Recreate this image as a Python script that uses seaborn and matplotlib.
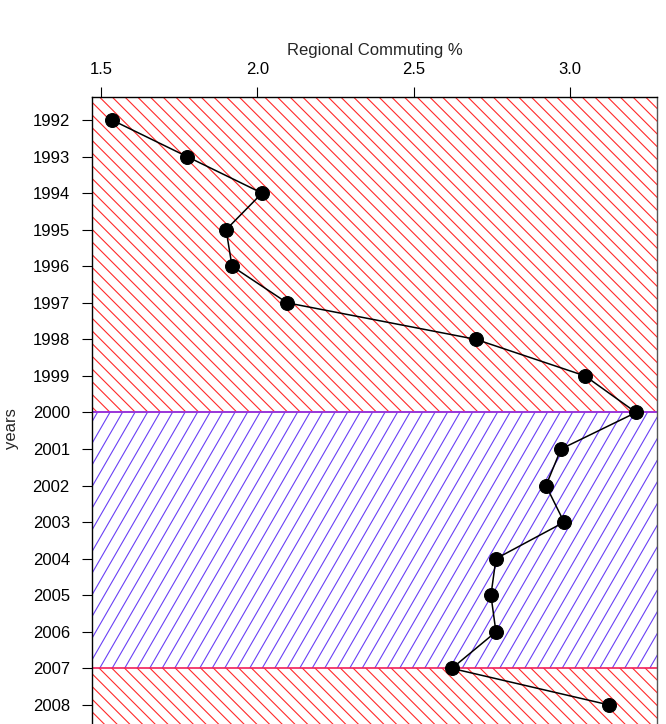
import numpy as np
import pandas as pd
import matplotlib
matplotlib.use("Agg")
import matplotlib.pyplot as plt
import matplotlib.patches as mpatches
from matplotlib.collections import LineCollection
import seaborn as sns

# Data
years = list(range(1992, 2009))
commuting = [1.535, 1.775, 2.015, 1.900, 1.919, 2.095, 2.699, 3.048, 3.211,
             2.971, 2.923, 2.981, 2.763, 2.747, 2.763, 2.622, 3.125]
x_ticks = [1.5, 2.0, 2.5, 3.0]
# boundaries of the blue-hatched period
period_bounds = [2000, 2007]

RED = "#ff2a2a"
BLUE = "#6a40f5"

df = pd.DataFrame({"year": years, "pct": commuting})

sns.set_style("white")
plt.rcParams["font.family"] = ["Liberation Sans", "DejaVu Sans"]

W_PX, H_PX = 666, 724
fig = plt.figure(figsize=(W_PX / 100, H_PX / 100), dpi=100)
ax_left, ax_right, ax_top, ax_bot = 92, 657, 97, 760
ax = fig.add_axes([ax_left / W_PX, (H_PX - ax_bot) / H_PX,
                   (ax_right - ax_left) / W_PX, (ax_bot - ax_top) / H_PX])
aw, ah = ax_right - ax_left, ax_bot - ax_top

px_per_year = 36.56
y_top = 1992 - 23 / px_per_year
y_bot = y_top + ah / px_per_year
px_per_unit = 312.7
x_lo = 1.5 - 9 / px_per_unit
x_hi = x_lo + aw / px_per_unit
ax.set_xlim(x_lo, x_hi)
ax.set_ylim(y_bot, y_top)


def hatch(y0, y1, color, angle, spacing):
    # diagonal hatch lines in axes-pixel space, clipped to the period band
    t = np.tan(np.radians(angle))
    run = ah / t
    segs = []
    start = -abs(run) - spacing
    for x0 in np.arange(start, aw + abs(run) + spacing, spacing):
        segs.append([(x0 / aw, 0), ((x0 + run) / aw, 1)])
    lc = LineCollection(segs, colors=color, linewidths=0.8,
                        transform=ax.transAxes, zorder=1)
    rect = mpatches.Rectangle((x_lo, y0), x_hi - x_lo, y1 - y0,
                              transform=ax.transData, facecolor="none",
                              edgecolor="none")
    ax.add_patch(rect)
    ax.add_collection(lc)
    lc.set_clip_path(rect)


hatch(y_top, period_bounds[0], RED, -45, 12.7)
hatch(period_bounds[0], period_bounds[1], BLUE, 60, 12.5)
hatch(period_bounds[1], y_bot, RED, -45, 12.7)
ax.axhline(period_bounds[0], color="#9a35d8", lw=1.4, zorder=2)
ax.axhline(period_bounds[1], color="#f0205a", lw=1.2, zorder=2)

sns.lineplot(data=df, x="pct", y="year", sort=False, estimator=None,
             color="black", lw=1.1, marker="o", markersize=10,
             markeredgecolor="black", ax=ax, zorder=3)

ax.set_xticks(x_ticks)
ax.set_xticklabels([f"{v:.1f}" for v in x_ticks])
ax.set_yticks(years)
ax.xaxis.tick_top()
ax.xaxis.set_label_position("top")
ax.tick_params(axis="x", top=True, bottom=False, direction="out", length=7.5,
               width=0.8, labelsize=12, pad=7, colors="black")
ax.tick_params(axis="y", left=True, direction="out", length=7.5, width=0.8,
               labelsize=12, pad=8.5, colors="black")
ax.set_xlabel("Regional Commuting %", fontsize=12, labelpad=5)
ax.set_ylabel("years", fontsize=12, labelpad=10)
for side in ["left", "top", "right"]:
    ax.spines[side].set_visible(True)
    ax.spines[side].set_color("black")
    ax.spines[side].set_linewidth(1.0)
ax.spines["right"].set_color("#555555")
ax.spines["bottom"].set_visible(False)
ax.grid(False)

fig.savefig("out.png", dpi=100)
